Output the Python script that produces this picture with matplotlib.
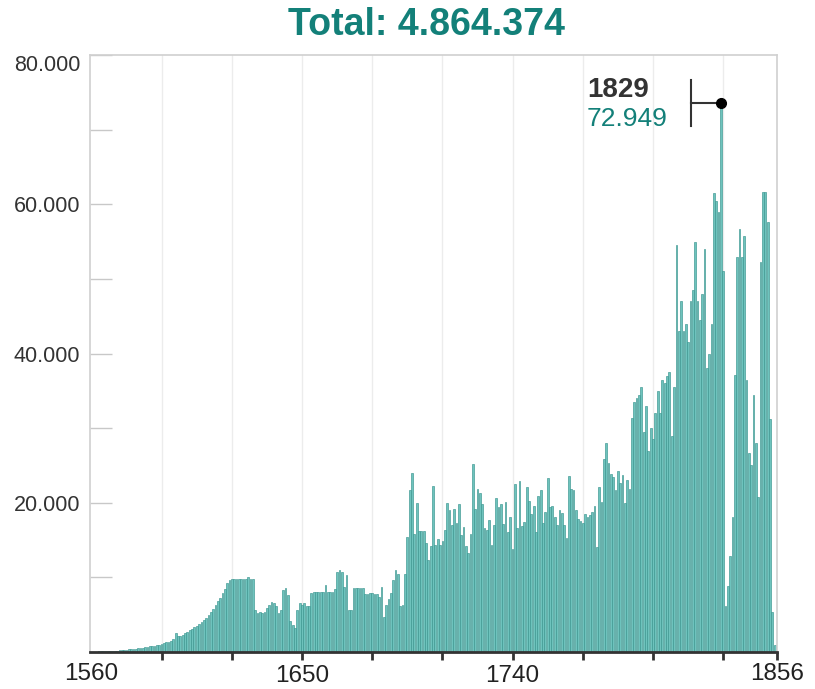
import numpy as np
import matplotlib.pyplot as plt
from matplotlib.transforms import offset_copy, blended_transform_factory

plt.rcParams['font.family'] = ['Liberation Sans', 'DejaVu Sans']

# Yearly values (thousands), 1560..1852
years = np.arange(1560, 1853)
values_k = [
    0.05, 0.05, 0.06, 0.08, 0.08, 0.1, 0.1, 0.12, 0.15, 0.15,
    0.2, 0.2, 0.25, 0.25, 0.3, 0.3, 0.35, 0.35, 0.4, 0.45,
    0.5, 0.55, 0.6, 0.65, 0.7, 0.75, 0.8, 0.85, 0.9, 1.0,
    1.1, 1.2, 1.3, 1.4, 1.5, 1.7, 2.6, 2.1, 2.2, 2.3,
    2.5, 2.7, 2.9, 3.1, 3.3, 3.5, 3.7, 4.0, 4.3, 4.6,
    5.0, 5.4, 5.8, 6.3, 6.8, 7.3, 7.9, 8.5, 9.2, 9.6,
    9.8, 9.8, 9.8, 9.8, 9.8, 9.8, 9.8, 10.0, 9.8, 9.8,
    5.6, 5.2, 5.4, 5.2, 5.3, 5.9, 6.3, 6.7, 6.6, 6.2,
    5.2, 5.6, 8.3, 8.6, 7.6, 4.1, 3.6, 3.2, 5.6, 6.5,
    6.3, 6.5, 6.1, 6.2, 7.9, 8.1, 8.0, 8.0, 8.0, 8.0,
    9.0, 8.0, 8.0, 8.1, 8.4, 10.7, 11.0, 10.7, 8.7, 10.3,
    5.6, 5.6, 8.6, 8.6, 8.6, 8.6, 8.6, 7.8, 7.8, 7.9,
    7.9, 7.8, 7.8, 7.4, 8.7, 4.7, 6.3, 7.1, 7.9, 9.6,
    11.0, 10.5, 6.1, 6.3, 10.5, 15.4, 21.7, 24.0, 15.8, 19.9,
    16.2, 16.2, 16.2, 14.6, 12.3, 14.2, 22.3, 14.3, 15.2, 14.3,
    14.9, 16.3, 20.0, 19.0, 17.0, 19.2, 17.3, 19.8, 15.7, 16.8,
    14.2, 13.2, 15.8, 25.2, 19.1, 21.9, 21.3, 19.8, 16.6, 16.3,
    17.7, 14.3, 17.0, 20.6, 19.4, 19.8, 17.2, 20.1, 16.1, 18.1,
    13.8, 22.5, 16.6, 22.9, 16.9, 17.4, 22.1, 20.3, 18.5, 19.6,
    16.1, 20.9, 21.7, 17.3, 18.8, 23.3, 19.4, 19.6, 18.1, 17.0,
    19.0, 18.6, 17.0, 15.3, 23.6, 21.9, 21.7, 19.0, 17.8, 17.6,
    17.3, 18.5, 18.1, 18.3, 18.8, 19.6, 14.1, 22.1, 20.1, 25.8,
    28.0, 25.3, 23.9, 23.5, 21.7, 24.3, 22.6, 23.7, 19.9, 23.0,
    21.9, 31.3, 33.5, 34.0, 34.5, 35.5, 29.5, 33.0, 27.0, 30.0,
    28.5, 32.0, 35.0, 32.0, 36.5, 36.0, 37.0, 37.5, 29.0, 35.5,
    54.5, 43.0, 47.0, 43.0, 44.0, 41.5, 47.0, 48.5, 55.0, 47.0,
    44.5, 48.0, 54.0, 38.0, 40.0, 44.0, 61.5, 60.5, 59.0, 72.949,
    51.0, 6.1, 8.8, 12.8, 18.1, 37.1, 52.9, 56.7, 52.9, 55.8,
    36.5, 26.6, 25.0, 34.4, 28.0, 20.8, 52.2, 61.7, 61.7, 57.6,
    31.2, 5.4, 0.9,
]
values = np.array(values_k) * 1000

peak_year = 1829
peak_label = "72.949"
title = "Total: 4.864.374"

y_ticks = [0, 10000, 20000, 30000, 40000, 50000, 60000, 70000, 80000]
y_labels = ["", "", "20.000", "", "40.000", "", "60.000", "", "80.000"]
x_marks = [1590, 1620, 1650, 1680, 1710, 1740, 1770, 1800, 1830, 1853]
# (position, text, vertical offset in px below the axis)
x_labels = [(1560, "1560", -22), (1650, "1650", -24), (1740, "1740", -24), (1853, "1856", -22)]

teal = "#138079"
bar_face = "#6ec3bd"
bar_edge = "#3a958f"

fig = plt.figure(figsize=(8.15, 6.89), dpi=100)
ax = fig.add_axes([90 / 815, 37 / 689, 687 / 815, 597 / 689])

ax.bar(years, values, width=0.75, color=bar_face, edgecolor=bar_edge, linewidth=0.45, zorder=2)

ax.set_xlim(1559.4, 1853)
ax.set_ylim(0, 80000)

# grid and frame
for xm in x_marks[:-1]:
    ax.axvline(xm, color="#ececec", lw=1, zorder=0)
for s in ["left", "top", "right"]:
    ax.spines[s].set_color("#d0d0d0")
    ax.spines[s].set_linewidth(1.2)
ax.spines["bottom"].set_color("#333333")
ax.spines["bottom"].set_linewidth(2)
ax.spines["bottom"].set_zorder(3)

ax.set_yticks(y_ticks)
ax.set_yticklabels(y_labels)
ax.tick_params(axis="y", direction="in", length=16, width=1, color="#c8c8c8",
               labelsize=15.5, labelcolor="#333333", pad=7)
ax.get_yticklabels()[-1].set_va("top")

ax.set_xticks(x_marks)
ax.set_xticklabels([])
ax.tick_params(axis="x", direction="out", length=6, width=2, color="#333333")

trans = blended_transform_factory(ax.transData, ax.transAxes)
for xv, lab, dy in x_labels:
    t = offset_copy(trans, fig=fig, x=0, y=dy, units="dots")
    ax.text(xv, 0, lab, transform=t, ha="center", va="center",
            fontsize=17.5, color="#222222", clip_on=False)

# peak annotation: dot, bracket and labels
peak_val = values[years == peak_year][0]
px_year = 687 / (1853 - 1559.4)          # pixels per year
px_val = 597 / 80000                     # pixels per unit
dot_tr = offset_copy(ax.transData, fig=fig, x=0, y=5, units="dots")
ax.plot([peak_year], [peak_val], "o", color="black", ms=7, transform=dot_tr,
        zorder=5, clip_on=False)
bx = peak_year - 30 / px_year
ax.plot([bx, peak_year], [peak_val, peak_val], color="#333333", lw=1.5,
        transform=dot_tr, zorder=4, clip_on=False)
ax.plot([bx, bx], [peak_val - 23 / px_val, peak_val + 23 / px_val], color="#333333",
        lw=1.5, transform=dot_tr, zorder=4, clip_on=False)

txt_tr1 = offset_copy(ax.transData, fig=fig, x=-134, y=18, units="dots")
ax.text(peak_year, peak_val, str(peak_year), transform=txt_tr1, ha="left", va="center",
        fontsize=20, fontweight="bold", color="#333333")
txt_tr2 = offset_copy(ax.transData, fig=fig, x=-134, y=-11, units="dots")
ax.text(peak_year, peak_val, peak_label, transform=txt_tr2, ha="left", va="center",
        fontsize=19, color=teal)

fig.text(427 / 815, 1 - 25 / 689, title, ha="center", va="center",
         fontsize=27, fontweight="bold", color=teal)

fig.savefig("out.png", dpi=100)
